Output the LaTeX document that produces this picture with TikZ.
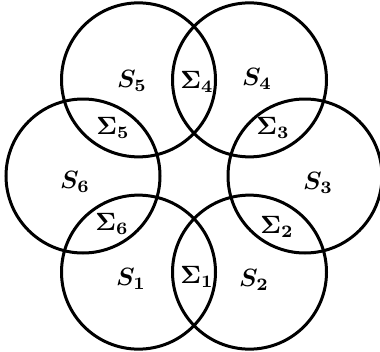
\documentclass[tikz,border=0pt]{standalone}
\usepackage{amsmath}
\usepackage{graphicx}
\usetikzlibrary{calc}
\newcommand{\lbtxt}[1]{\scalebox{2.5}{\boldmath$#1$}}
\begin{document}
\begin{tikzpicture}[x=1pt,y=-1pt,
  ring/.style={draw=black,line width=3pt},
  lbl/.style={inner sep=0pt}]
\useasboundingbox (0,0) rectangle (380,351);
\def\R{111}
\def\r{77}
\coordinate (O) at (194,176);
\foreach \n/\a in {1/-120,2/-60,3/0,4/60,5/120,6/180}{
  \coordinate (c\n) at ($(O)+({\R*cos(\a)},{-\R*sin(\a)})$);
}
\foreach \n in {1,...,6}{
  \draw[ring] (c\n) circle[radius=\r];
}
\node[lbl] (s5) at (132,81) {\lbtxt{S_5}};
\node[lbl] (s4) at (257,79) {\lbtxt{S_4}};
\node[lbl] (s6) at (75,182) {\lbtxt{S_6}};
\node[lbl] (s3) at (318,183) {\lbtxt{S_3}};
\node[lbl] (s1) at (131,279) {\lbtxt{S_1}};
\node[lbl] (s2) at (254,280) {\lbtxt{S_2}};
\node[lbl] (g4) at (197,82) {\lbtxt{\Sigma_4}};
\node[lbl] (g5) at (113,128) {\lbtxt{\Sigma_5}};
\node[lbl] (g3) at (273,128) {\lbtxt{\Sigma_3}};
\node[lbl] (g6) at (112,224) {\lbtxt{\Sigma_6}};
\node[lbl] (g2) at (277,227) {\lbtxt{\Sigma_2}};
\node[lbl] (g1) at (197,277) {\lbtxt{\Sigma_1}};
\end{tikzpicture}
\end{document}
